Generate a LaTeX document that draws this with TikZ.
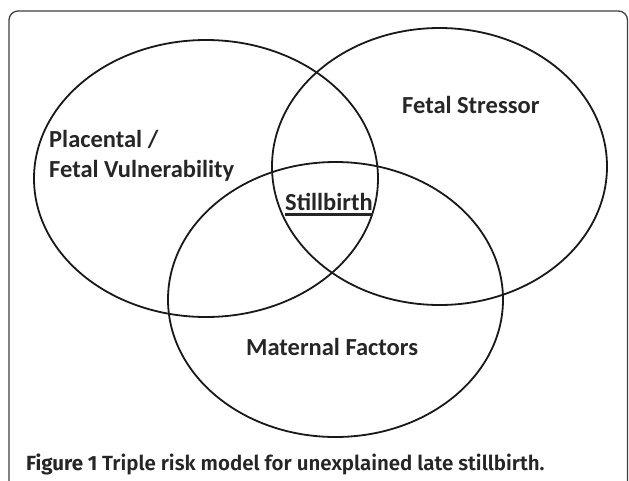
\documentclass[tikz,border=0pt]{standalone}
\usepackage{fontspec}
\setmainfont{Carlito}
\newfontfamily\capfont{Fira Sans}
\newfontfamily\capfontsb{Fira Sans SemiBold}
\begin{document}
\begin{tikzpicture}[x=1pt,y=-1pt]
\tikzset{
  venn/.style={draw=black!90, line width=1.8pt},
  lbl/.style={inner sep=0pt, anchor=base west, font=\fontsize{24.5}{30}\selectfont\bfseries, text=black!85},
  frame/.style={draw=black!75, line width=1.3pt, rounded corners=9pt}
}
\useasboundingbox (0,0) rectangle (629,480);
\fill[white] (0,0) rectangle (629,480);
\draw[frame] (9,490) -- (9,11) -- (627.5,11) -- (627.5,490);
\draw[venn] (206,178.5) ellipse [x radius=172, y radius=138.5];
\draw[venn] (439.5,166.5) ellipse [x radius=167.5, y radius=138.5];
\draw[venn] (335.5,299.5) ellipse [x radius=167.5, y radius=137.5];
\node[lbl] (pl1) at (49,147) {Placental /};
\node[lbl] (pl2) at (49,177) {Fetal Vulnerability};
\node[lbl] (fs) at (402,113) {Fetal Stressor};
\node[lbl] (sb) at (285,210) {Stillbirth};
\draw[black!85, line width=2.2pt] ([yshift=-4.5pt]sb.base west) -- ([yshift=-4.5pt]sb.base east);
\node[lbl] (mf) at (246,355) {Maternal Factors};
\node[inner sep=0pt, anchor=base west, font=\fontsize{20.5}{24}\selectfont, text=black!85] (cap) at (26,470) {{\capfont\bfseries Figure 1} {\capfontsb Triple risk model for unexplained late stillbirth.}};
\end{tikzpicture}
\end{document}
